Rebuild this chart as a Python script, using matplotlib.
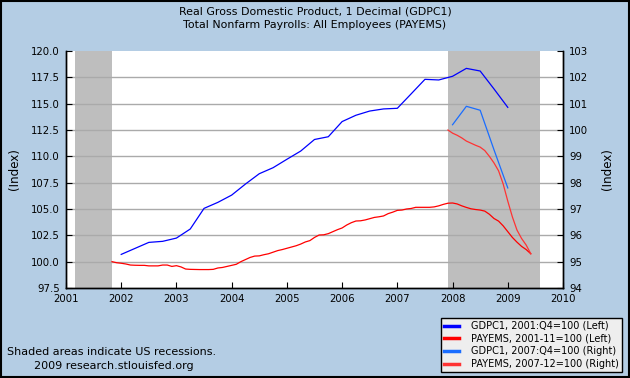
import matplotlib
matplotlib.use("Agg")
import matplotlib.pyplot as plt
from matplotlib.lines import Line2D
from matplotlib.patches import Rectangle
from matplotlib.ticker import FormatStrFormatter

# GDPC1 quarterly, 2001:Q4=100, from 2002:Q1 to 2009:Q1 (left axis)
gdp_2001 = [100.69, 101.26, 101.83, 101.93,
            102.24, 103.1, 105.06, 105.63,
            106.32, 107.37, 108.35, 108.92,
            109.72, 110.5, 111.6, 111.86,
            113.3, 113.9, 114.3, 114.5,
            114.56, 115.93, 117.31, 117.25,
            117.6, 118.35, 118.1, 116.4,
            114.65]
gdp_2001_start = 2002.0

# PAYEMS monthly, 2001-11=100, Nov 2001 to Jun 2009 (left axis)
payems_2001 = [100.0, 99.9, 99.85, 99.78, 99.68, 99.66, 99.65, 99.65, 99.6, 99.6, 99.6, 99.68,
               99.68, 99.55, 99.62, 99.5, 99.3, 99.27, 99.26, 99.25, 99.25, 99.25, 99.27, 99.4,
               99.45, 99.55, 99.65, 99.75, 100.0, 100.2, 100.4, 100.53, 100.55, 100.66, 100.75, 100.9,
               101.05, 101.15, 101.27, 101.39, 101.51, 101.67, 101.87, 102.0, 102.3, 102.53, 102.55, 102.66,
               102.85, 103.04, 103.2, 103.48, 103.7, 103.86, 103.88, 103.96, 104.08, 104.2, 104.26, 104.34,
               104.56, 104.7, 104.87, 104.9, 105.0, 105.05, 105.16, 105.16, 105.16, 105.16, 105.2, 105.3,
               105.44, 105.55, 105.57, 105.48, 105.3, 105.15, 105.02, 104.95, 104.9, 104.8, 104.5, 104.1,
               103.85, 103.4, 102.85, 102.3, 101.85, 101.45, 101.15, 100.75]
payems_2001_start = 2001 + 10 / 12

# GDPC1 quarterly, 2007:Q4=100, 2008:Q1 to 2009:Q1 (right axis)
gdp_2007 = [100.2, 100.9, 100.75, 99.25, 97.8]
gdp_2007_start = 2008.0

# PAYEMS monthly, 2007-12=100, Dec 2007 to Jun 2009 (right axis)
payems_2007 = [100.0, 99.88, 99.8, 99.7, 99.58, 99.5, 99.42, 99.35, 99.22, 99.0,
               98.75, 98.45, 97.95, 97.3, 96.7, 96.2, 95.88, 95.63, 95.3]
payems_2007_start = 2007 + 11 / 12

recessions = [(2001.16, 2001.84), (2007.92, 2009.58)]

labels = ["GDPC1, 2001:Q4=100 (Left)", "PAYEMS, 2001-11=100 (Left)",
          "GDPC1, 2007:Q4=100 (Right)", "PAYEMS, 2007-12=100 (Right)"]
colors = ["#0000ff", "#ff0000", "#1a6dff", "#ff3333"]

left_ticks = [97.5, 100.0, 102.5, 105.0, 107.5, 110.0, 112.5, 115.0, 117.5, 120.0]
right_ticks = [94, 95, 96, 97, 98, 99, 100, 101, 102, 103]
year_ticks = list(range(2001, 2011))

bg = "#b4cde4"
fs = 7.3


def dates(start, n, step):
    return [start + i * step for i in range(n)]


fig = plt.figure(figsize=(6.3, 3.78), dpi=100, facecolor=bg)
ax = fig.add_axes([66 / 630, 1 - 288 / 378, 497 / 630, 237 / 378])
ax2 = ax.twinx()

for a, b in recessions:
    ax.axvspan(a, b, color="#bebebe", lw=0, zorder=1)

for y in left_ticks[1:-1]:
    ax.axhline(y, color="#aaaaaa", lw=1.0, zorder=1.5)

ax.plot(dates(gdp_2001_start, len(gdp_2001), 0.25), gdp_2001, color=colors[0], lw=0.9, zorder=3)
ax.plot(dates(payems_2001_start, len(payems_2001), 1 / 12), payems_2001, color=colors[1], lw=0.9, zorder=3)
ax2.plot(dates(gdp_2007_start, len(gdp_2007), 0.25), gdp_2007, color=colors[2], lw=0.9, zorder=3)
ax2.plot(dates(payems_2007_start, len(payems_2007), 1 / 12), payems_2007, color=colors[3], lw=0.9, zorder=3)

ax.set_xlim(2001, 2010)
ax.set_ylim(97.5, 120)
ax2.set_ylim(94, 103)
ax.set_xticks(year_ticks)
ax.set_yticks(left_ticks)
ax2.set_yticks(right_ticks)
ax.yaxis.set_major_formatter(FormatStrFormatter("%.1f"))

for a in (ax, ax2):
    a.spines["top"].set_visible(False)
    for s in ("left", "right", "bottom"):
        a.spines[s].set_linewidth(1.0)
    a.tick_params(direction="in", length=4, width=0.8, labelsize=fs, pad=4.5, colors="black")
ax.tick_params(axis="x", pad=4)

ax.set_ylabel("(Index)", fontsize=8.6, labelpad=7)
ax2.set_ylabel("(Index)", fontsize=8.6, labelpad=9)

fig.text(0.5, 1 - 12 / 378, "Real Gross Domestic Product, 1 Decimal (GDPC1)",
         ha="center", va="center", fontsize=7.9)
fig.text(0.5, 1 - 25 / 378, "Total Nonfarm Payrolls: All Employees (PAYEMS)",
         ha="center", va="center", fontsize=7.9)

fig.text(7 / 630, 1 - 352 / 378, "Shaded areas indicate US recessions.", fontsize=8.0, va="center")
fig.text(34 / 630, 1 - 366 / 378, "2009 research.stlouisfed.org", fontsize=8.0, va="center")

# legend box in the bottom right corner
handles = [Line2D([0], [0], color=c, lw=2.5) for c in colors]
leg = fig.legend(handles, labels, loc="lower right",
                 bbox_to_anchor=(622 / 630, 1 - 372 / 378),
                 fontsize=7.0, frameon=True, fancybox=False, facecolor="#eeeeee",
                 edgecolor="black", framealpha=1, handlelength=1.5,
                 handletextpad=1.3, borderpad=0.3, labelspacing=0.28,
                 borderaxespad=0)
leg.get_frame().set_linewidth(1.0)

# black border round the whole image
fig.patches.append(Rectangle((0.001, 0.002), 0.997, 0.996, transform=fig.transFigure,
                             fill=False, edgecolor="black", lw=1.5))

fig.savefig("out.png", dpi=100, facecolor=bg)
